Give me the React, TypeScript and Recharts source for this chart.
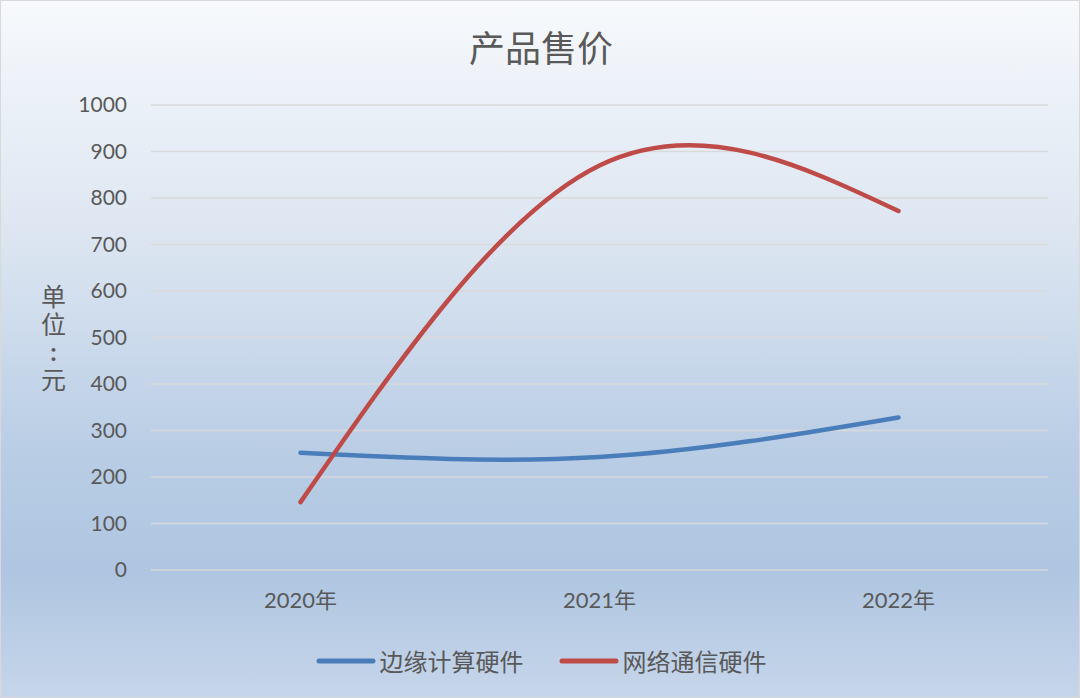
import { LineChart, Line, XAxis, YAxis, CartesianGrid } from 'recharts'

const categories = ['2020年', '2021年', '2022年']
const edgeHardware = [252, 243, 328]
const networkHardware = [146, 870, 772]
const yTicks = [0, 100, 200, 300, 400, 500, 600, 700, 800, 900, 1000]

const seriesNames = ['边缘计算硬件', '网络通信硬件']
const seriesColors = ['#4a7ebb', '#be4b48']
const unitLabel = ['单', '位', ':', '元']

const chartData = categories.map((name, i) => ({
  name,
  edge: edgeHardware[i],
  network: networkHardware[i],
}))

const FONT = "Lato, 'Noto Sans CJK SC', sans-serif"
const TEXT = '#595959'

// legend drawn like the Excel one: thick line + label
const CustomLegend = () => (
  <div style={{ display: 'flex', justifyContent: 'center', alignItems: 'center', gap: 35, fontFamily: FONT }}>
    {seriesNames.map((s, i) => (
      <div key={s} style={{ display: 'flex', alignItems: 'center' }}>
        <svg width={60} height={10} style={{ marginRight: 4 }}>
          <line x1={3} y1={5} x2={57} y2={5} stroke={seriesColors[i]} strokeWidth={5} strokeLinecap="round" />
        </svg>
        <span style={{ fontSize: 24, color: TEXT }}>{s}</span>
      </div>
    ))}
  </div>
)

export default function App() {
  return (
    <div
      style={{
        position: 'absolute',
        left: 0,
        top: 0,
        width: 1080,
        height: 698,
        boxSizing: 'border-box',
        border: '1px solid #d9d9d9',
        background: 'linear-gradient(180deg, #f7f9fc 0%, #dbe5f1 35%, #b9cde5 65%, #afc5e1 82%, #c6d6ea 100%)',
        fontFamily: FONT,
      }}
    >
      <div
        style={{
          position: 'absolute',
          top: 24,
          left: 0,
          width: 1080,
          textAlign: 'center',
          fontSize: 36,
          color: TEXT,
          lineHeight: '46px',
        }}
      >
        产品售价
      </div>
      <div
        style={{
          position: 'absolute',
          left: 39,
          top: 282,
          width: 27,
          fontSize: 25,
          lineHeight: '27.5px',
          color: TEXT,
          textAlign: 'center',
        }}
      >
        {unitLabel.map(c => (
          <div key={c} style={c === ':' ? { fontWeight: 700 } : undefined}>{c}</div>
        ))}
      </div>
      <div style={{ position: 'absolute', left: -1, top: -1 }}>
        <LineChart width={1080} height={698} data={chartData} margin={{ top: 105, right: 32, left: 0, bottom: 98 }}>
          <CartesianGrid vertical={false} stroke="#d9d9d9" strokeWidth={1.5} />
          <XAxis
            dataKey="name"
            scale="band"
            axisLine={false}
            tickLine={false}
            tickSize={0}
            tickMargin={22}
            tick={{ fill: TEXT, fontSize: 22, fontFamily: FONT }}
            height={30}
          />
          <YAxis
            width={151}
            domain={[0, 1000]}
            ticks={yTicks}
            interval={0}
            axisLine={false}
            tickLine={false}
            tickSize={0}
            tickMargin={24}
            tick={{ fill: TEXT, fontSize: 21, fontFamily: FONT }}
          />
          <Line
            type="natural"
            dataKey="edge"
            name={seriesNames[0]}
            stroke={seriesColors[0]}
            strokeWidth={4.5}
            strokeLinecap="round"
            dot={false}
            activeDot={false}
            isAnimationActive={false}
          />
          <Line
            type="natural"
            dataKey="network"
            name={seriesNames[1]}
            stroke={seriesColors[1]}
            strokeWidth={4.5}
            strokeLinecap="round"
            dot={false}
            activeDot={false}
            isAnimationActive={false}
          />
        </LineChart>
      </div>
      <div style={{ position: 'absolute', top: 642, left: 0, width: 1080 }}>
        <CustomLegend />
      </div>
    </div>
  )
}
